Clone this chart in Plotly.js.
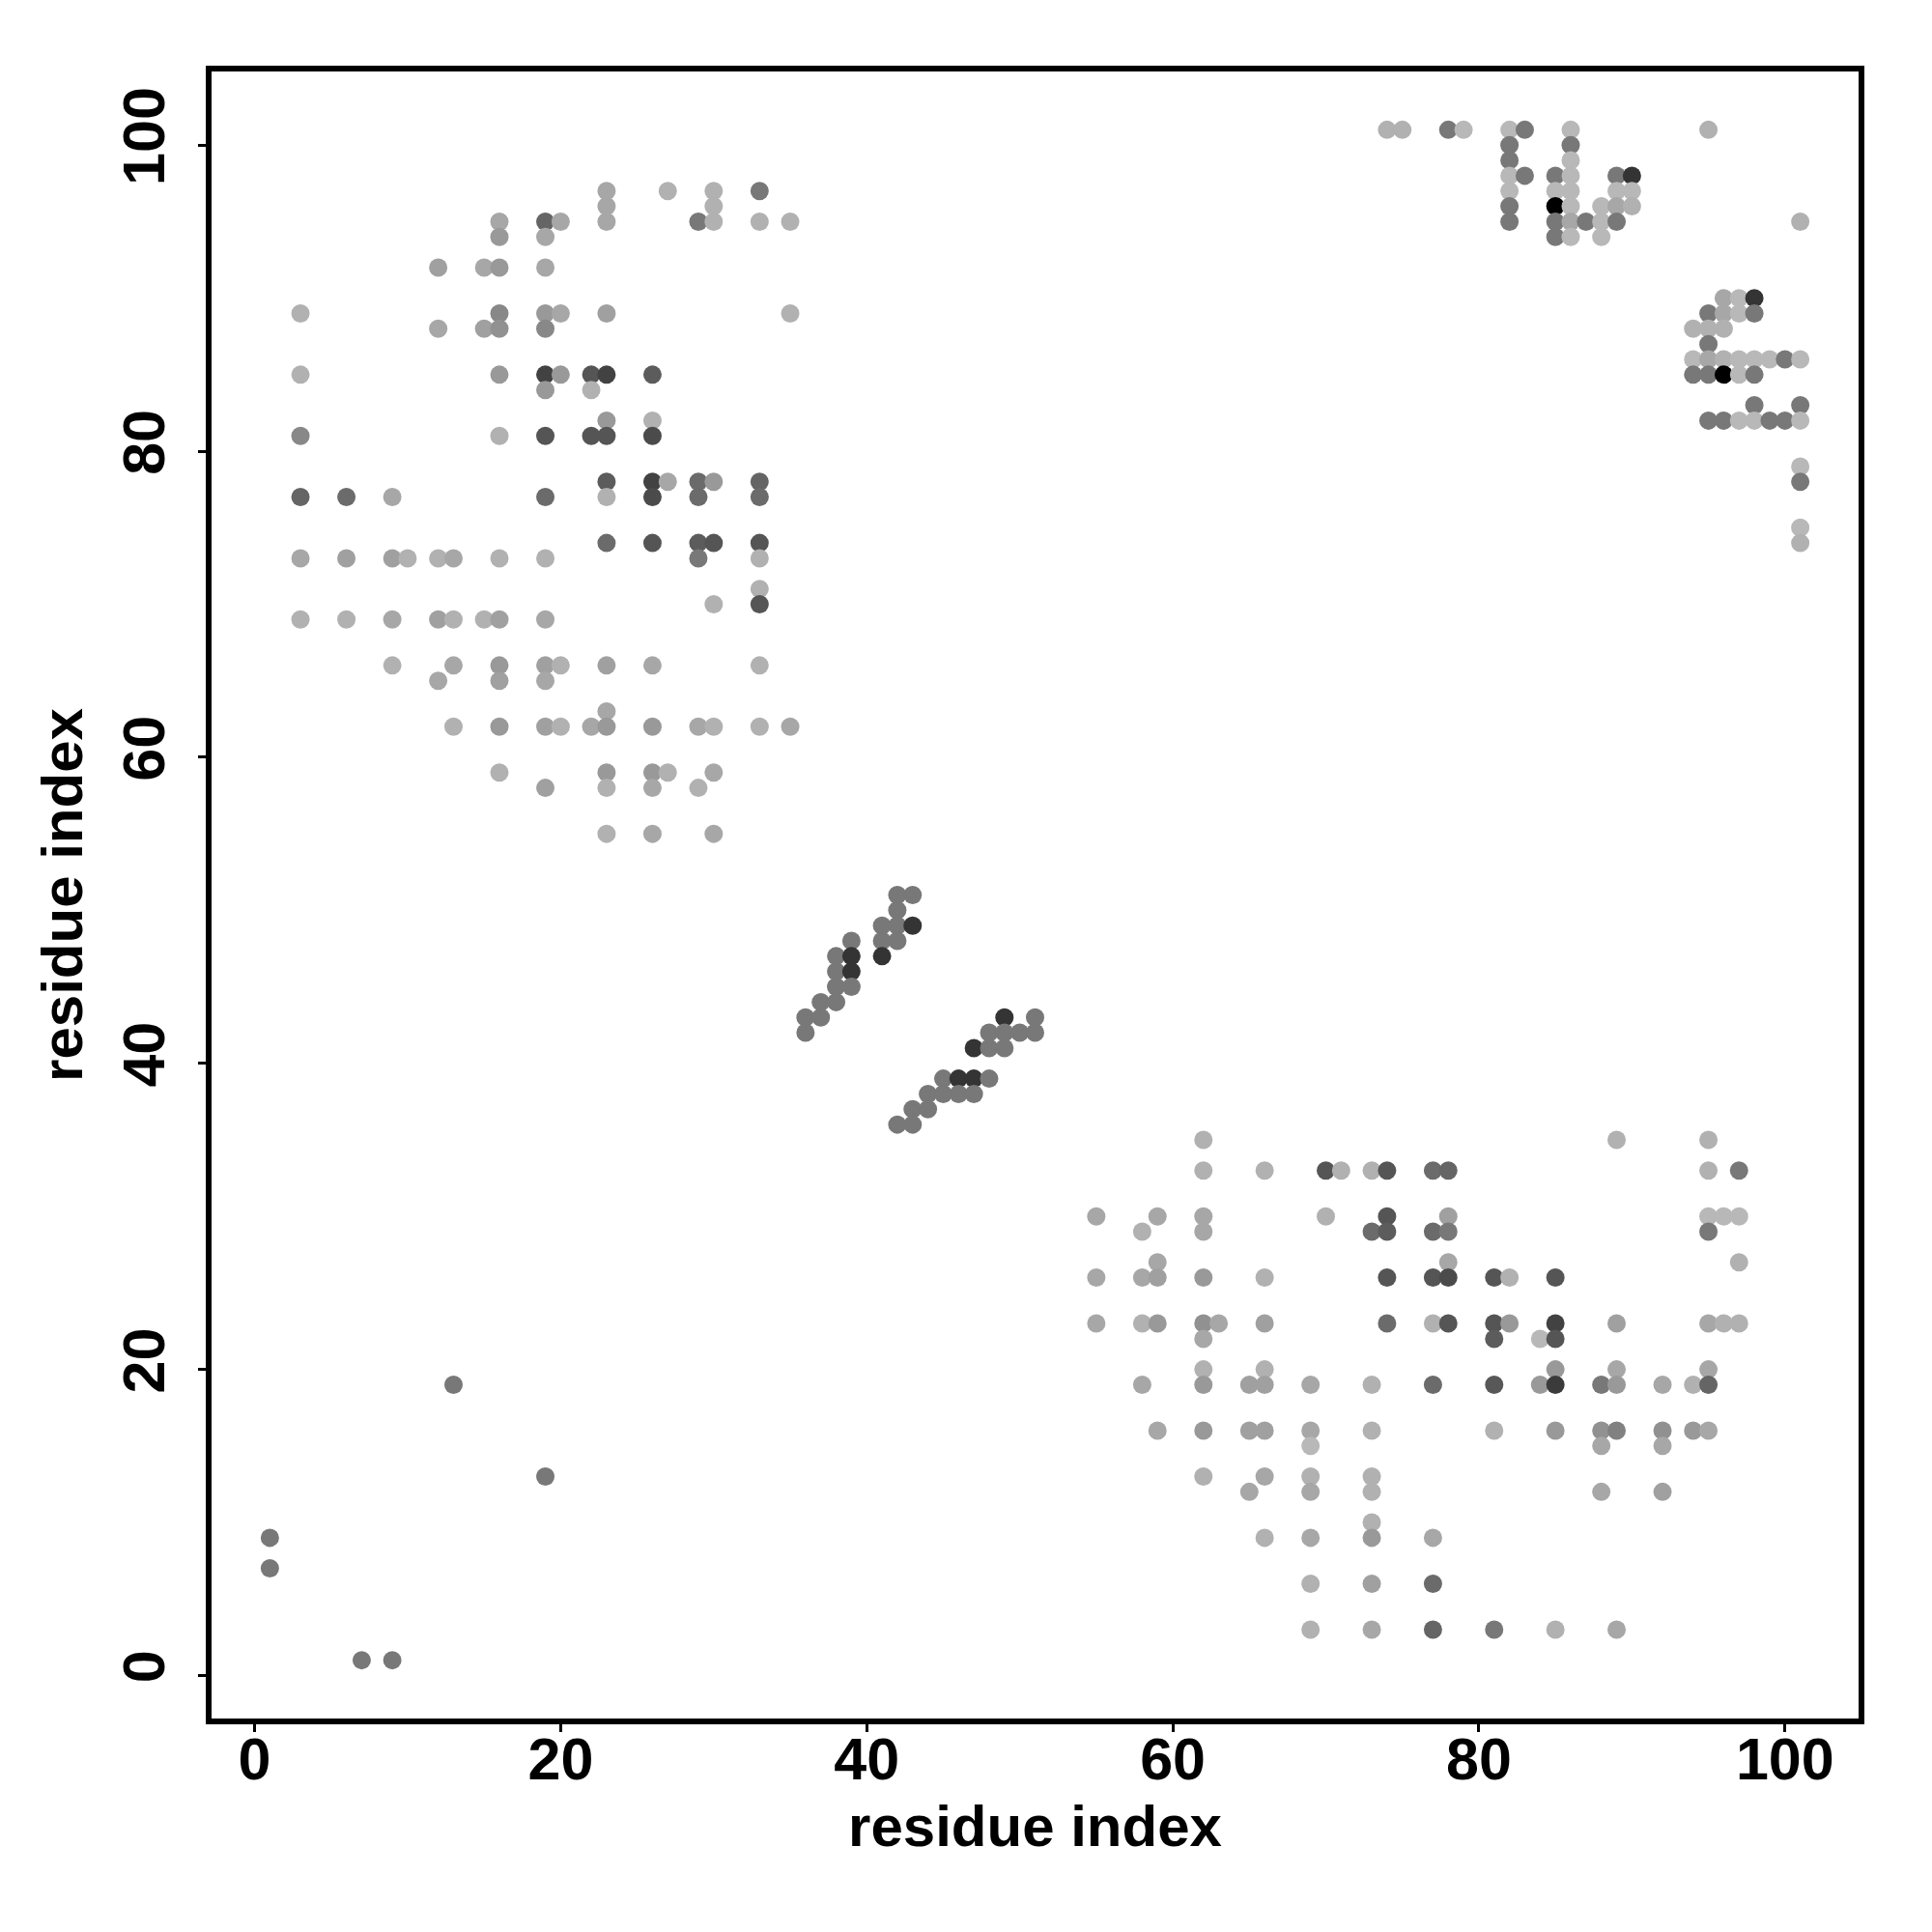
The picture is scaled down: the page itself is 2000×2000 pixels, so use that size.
<!DOCTYPE html>
<html>
<head>
<meta charset="utf-8">
<script src="https://cdn.plot.ly/plotly-3.0.1.min.js"></script>
<style>html,body{margin:0;padding:0;background:#fff;}#chart{width:2000px;height:2000px;}</style>
</head>
<body>
<div id="chart"></div>
<script>
// Each entry: [residue i, residue j, contact strength (0 = faint, 10 = strongest)]
const upperLeftBlock = [
  [23,97,0.9],[27,97,0.4],[30,97,0.4],[33,97,3.5],
  [23,96,0.9],[30,96,0.4],
  [16,95,0.9],[19,95,4.5],[20,95,0.9],[23,95,0.9],[29,95,3.5],[30,95,0.4],[33,95,0.4],[35,95,0.4],
  [16,94,1.7],[19,94,0.9],
  [12,92,1.3],[15,92,0.9],[16,92,1.7],[19,92,0.9],
  [3,89,0.4],[16,89,2.6],[19,89,1.7],[20,89,0.9],[23,89,1.3],[35,89,0.4],
  [12,88,0.9],[15,88,1.3],[16,88,2.1],[19,88,2.6],
  [3,85,0.4],[16,85,1.7],[19,85,6.4],[20,85,1.7],[22,85,5.4],[23,85,6.4],[26,85,5.0],
  [19,84,1.7],[22,84,0.4],
  [23,82,1.7],[26,82,0.4],
  [3,81,2.6],[16,81,0.4],[19,81,5.4],[22,81,5.4],[23,81,5.4],[26,81,5.9],
  [23,78,5.0],[26,78,6.4],[27,78,0.9],[29,78,4.2],[30,78,1.7],[33,78,4.5],
  [3,77,4.5],[6,77,4.2],[9,77,0.9],[19,77,4.2],[23,77,0.4],[26,77,5.9],[29,77,4.2],[33,77,4.2],
  [23,74,4.2],[26,74,5.4],[29,74,5.0],[30,74,5.4],[33,74,5.4],
  [3,73,0.9],[6,73,1.3],[9,73,1.3],[10,73,0.4],[12,73,0.4],[13,73,0.9],[16,73,0.4],[19,73,0.4],[29,73,3.5],[33,73,0.4],
  [33,71,0.4],
  [30,70,0.4],[33,70,5.4],
  [3,69,0.4],[6,69,0.4],[9,69,0.9],[12,69,1.3],[13,69,0.4],[15,69,0.4],[16,69,1.3],[19,69,0.9],
  [9,66,0.4],[13,66,0.9],[16,66,1.7],[19,66,1.3],[20,66,0.4],[23,66,1.3],[26,66,0.9],[33,66,0.4],
  [12,65,0.9],[16,65,1.3],[19,65,0.9],
  [23,63,0.9],
  [13,62,0.4],[16,62,1.7],[19,62,1.3],[20,62,0.4],[22,62,0.9],[23,62,1.7],[26,62,1.7],[29,62,0.9],[30,62,0.4],[33,62,0.4],[35,62,0.9],
  [16,59,0.4],[23,59,1.7],[26,59,1.7],[27,59,0.4],[30,59,0.9],
  [19,58,1.3],[23,58,0.4],[26,58,0.9],[29,58,0.4],
  [23,55,0.4],[26,55,0.9],[30,55,0.9]
];

const hairpinBlock = [
  [42,51,3.5],[43,51,3.5],[42,50,3.5],[41,49,3.5],[42,49,3.5],[43,49,7.2],[41,48,3.5],[42,48,3.5],[41,47,7.2],
  [39,48,3.5],[38,47,3.5],[39,47,7.2],[38,46,3.5],[39,46,7.2],[38,45,3.5],[39,45,3.5],[37,44,3.5],[38,44,3.5],
  [36,43,3.5],[37,43,3.5],[36,42,3.5],
  [49,43,7.2],[51,43,3.5],[48,42,3.5],[49,42,3.5],[50,42,3.5],[51,42,3.5],[47,41,7.2],[48,41,3.5],[49,41,3.5],
  [45,39,3.5],[46,39,7.2],[47,39,7.2],[48,39,3.5],[44,38,3.5],[45,38,3.5],[46,38,3.5],[47,38,3.5],
  [43,37,3.5],[44,37,3.5],[42,36,3.5],[43,36,3.5]
];

const upperRightBlock = [
  [74,101,0.4],[75,101,0.4],[78,101,3.5],[79,101,0.0],[82,101,0.0],[83,101,3.5],[86,101,0.0],[95,101,0.4],
  [82,100,3.5],[86,100,3.5],
  [82,99,3.5],[86,99,0.0],
  [82,98,0.0],[83,98,3.5],[85,98,3.5],[86,98,0.0],[89,98,3.5],[90,98,7.2],
  [82,97,0.0],[85,97,0.0],[86,97,0.0],[89,97,0.0],[90,97,0.0],
  [82,96,3.5],[85,96,10],[86,96,0.0],[88,96,0.0],[89,96,0.9],[90,96,0.4],
  [82,95,3.5],[85,95,3.5],[86,95,0.9],[87,95,3.5],[88,95,0.0],[89,95,3.5],[101,95,0.4],
  [85,94,3.5],[86,94,0.0],[88,94,0.0],
  [96,90,0.9],[97,90,0.0],[98,90,7.2],
  [95,89,3.5],[96,89,0.9],[97,89,0.0],[98,89,3.5],
  [94,88,0.4],[95,88,0.4],[96,88,0.4],
  [95,87,3.5],
  [94,86,0.0],[95,86,0.9],[96,86,0.4],[97,86,0.0],[98,86,0.0],[99,86,0.0],[100,86,3.5],[101,86,0.0],
  [94,85,3.5],[95,85,3.5],[96,85,10],[97,85,0.0],[98,85,3.5],
  [98,83,3.5],[101,83,3.5],
  [95,82,3.5],[96,82,3.5],[97,82,0.0],[98,82,0.0],[99,82,3.5],[100,82,3.5],[101,82,0.0],
  [101,79,0.0],[101,78,3.5],[101,75,0.0],[101,74,0.4]
];

const lowerRightBlock = [
  [62,35,0.4],[89,35,0.4],[95,35,0.4],
  [62,33,0.4],[66,33,0.4],[70,33,5.4],[71,33,0.4],[73,33,0.4],[74,33,5.4],[77,33,4.2],[78,33,4.5],[95,33,0.4],[97,33,3.5],
  [55,30,0.9],[59,30,0.9],[62,30,0.9],[70,30,0.4],[74,30,5.4],[78,30,1.3],[95,30,0.0],[96,30,0.0],[97,30,0.0],
  [58,29,0.4],[62,29,0.9],[73,29,4.2],[74,29,5.0],[77,29,4.2],[78,29,3.5],[95,29,3.5],
  [59,27,0.9],[78,27,0.9],[97,27,0.4],
  [55,26,0.9],[58,26,0.9],[59,26,1.3],[62,26,1.7],[66,26,0.4],[74,26,5.4],[77,26,5.4],[78,26,5.9],[81,26,5.4],[82,26,0.4],[85,26,5.4],
  [55,23,0.9],[58,23,0.4],[59,23,1.7],[62,23,2.1],[63,23,0.9],[66,23,1.3],[74,23,4.2],[77,23,0.4],[78,23,5.4],[81,23,5.4],[82,23,1.7],[85,23,6.4],[89,23,1.3],[95,23,0.9],[96,23,0.4],[97,23,0.4],
  [62,22,0.9],[81,22,5.0],[84,22,0.0],[85,22,5.4],
  [62,20,0.4],[66,20,0.4],[85,20,1.7],[89,20,0.9],[95,20,0.9],
  [58,19,0.9],[62,19,1.7],[65,19,1.3],[66,19,1.3],[69,19,0.9],[73,19,0.4],[77,19,4.2],[81,19,5.2],[84,19,1.7],[85,19,6.8],[88,19,3.5],[89,19,1.7],[92,19,0.9],[94,19,0.4],[95,19,4.5],
  [59,16,0.9],[62,16,1.7],[65,16,1.3],[66,16,1.3],[69,16,0.9],[73,16,0.4],[81,16,0.4],[85,16,1.7],[88,16,2.1],[89,16,3.0],[92,16,2.1],[94,16,1.7],[95,16,0.9],
  [69,15,0.0],[88,15,0.9],[92,15,0.9],
  [62,13,0.4],[66,13,0.9],[69,13,0.4],[73,13,0.4],
  [65,12,0.9],[69,12,0.9],[73,12,0.4],[88,12,0.9],[92,12,1.3],
  [73,10,0.4],
  [66,9,0.4],[69,9,0.9],[73,9,1.7],[77,9,0.9],
  [69,6,0.4],[73,6,1.3],[77,6,4.2],
  [69,3,0.4],[73,3,0.9],[77,3,4.5],[81,3,3.5],[85,3,0.4],[89,3,0.9]
];

const lowerLeftBlock = [
  [1,9,3.5],[1,7,3.5],[7,1,3.5],[9,1,3.5],[13,19,3.5],[19,13,3.5]
];

const tickValues = [0, 20, 40, 60, 80, 100];
const axisTitle = 'residue index';

const allContacts = [].concat(upperLeftBlock, hairpinBlock, upperRightBlock, lowerRightBlock, lowerLeftBlock);

const trace = {
  type: 'scatter',
  mode: 'markers',
  x: allContacts.map(d => d[0]),
  y: allContacts.map(d => d[1]),
  marker: {
    size: 19,
    color: allContacts.map(d => d[2]),
    colorscale: [[0, '#b8b8b8'], [1, '#000000']],
    cmin: 0,
    cmax: 10,
    showscale: false,
    line: {width: 0}
  },
  hoverinfo: 'x+y'
};

const fontBase = {family: 'Liberation Sans, Arial, sans-serif', size: 61, color: '#000', weight: 'bold'};
const titleFont = Object.assign({}, fontBase, {size: 60});

const axisCommon = {
  range: [-3, 105],
  tickvals: tickValues,
  ticktext: tickValues.map(String),
  ticks: 'outside',
  ticklen: 10,
  tickwidth: 3,
  tickcolor: '#000',
  showline: false,
  showgrid: false,
  zeroline: false,
  tickfont: fontBase,
  fixedrange: true
};

const layout = {
  width: 2000,
  height: 2000,
  margin: {l: 216, r: 73, t: 71, b: 218, autoexpand: false},
  paper_bgcolor: '#fff',
  plot_bgcolor: '#fff',
  showlegend: false,
  font: fontBase,
  xaxis: Object.assign({}, axisCommon, {
    ticklabelstandoff: -24,
    title: {text: axisTitle, font: titleFont, standoff: 14}
  }),
  yaxis: Object.assign({}, axisCommon, {
    tickangle: -90,
    ticklabelstandoff: 11,
    title: {text: axisTitle, font: titleFont, standoff: 9}
  }),
  shapes: [{
    type: 'rect', xref: 'paper', yref: 'paper',
    x0: 0, x1: 1, y0: 0, y1: 1,
    line: {color: '#000', width: 6},
    fillcolor: 'rgba(0,0,0,0)',
    layer: 'above'
  }]
};

Plotly.newPlot('chart', [trace], layout, {displayModeBar: false, staticPlot: true});
</script>
</body>
</html>
